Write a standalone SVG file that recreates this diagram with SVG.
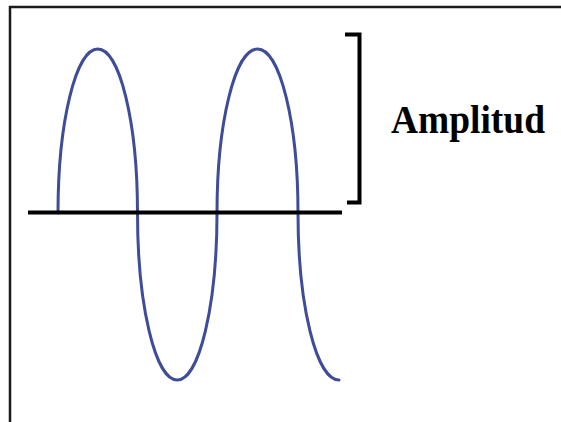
<svg xmlns="http://www.w3.org/2000/svg" width="561" height="422" viewBox="0 0 561 422">
  <style>
    .frame { fill: none; stroke: #1a1a1a; stroke-width: 2.5; }
    .axis { fill: none; stroke: #000; stroke-width: 4; }
    .wave { fill: none; stroke: #3f4c98; stroke-width: 3; stroke-linecap: round; }
    .bracket { fill: none; stroke: #000; stroke-width: 4; }
    .label { font-family: "Liberation Serif", "Times New Roman", serif; font-weight: bold; font-size: 39px; fill: #000; }
  </style>
  <rect x="0" y="0" width="561" height="422" fill="#fff"/>
  <g id="frame">
    <path class="frame" d="M10,422 V7 H561"/>
  </g>
  <g id="wave">
    <path class="wave" d="M58,213 A39.75,164 0 0 1 137.5,213 A39.75,167 0 0 0 217,213 A40.5,164 0 0 1 298,213 A41,167 0 0 0 339,380"/>
  </g>
  <g id="axis">
    <line class="axis" x1="28" y1="212.5" x2="342" y2="212.5"/>
  </g>
  <g id="bracket">
    <path class="bracket" d="M345,34.5 H359.5 V202.5 H347"/>
  </g>
  <g id="label">
    <text class="label" x="391" y="133" textLength="154" lengthAdjust="spacingAndGlyphs">Amplitud</text>
  </g>
</svg>
